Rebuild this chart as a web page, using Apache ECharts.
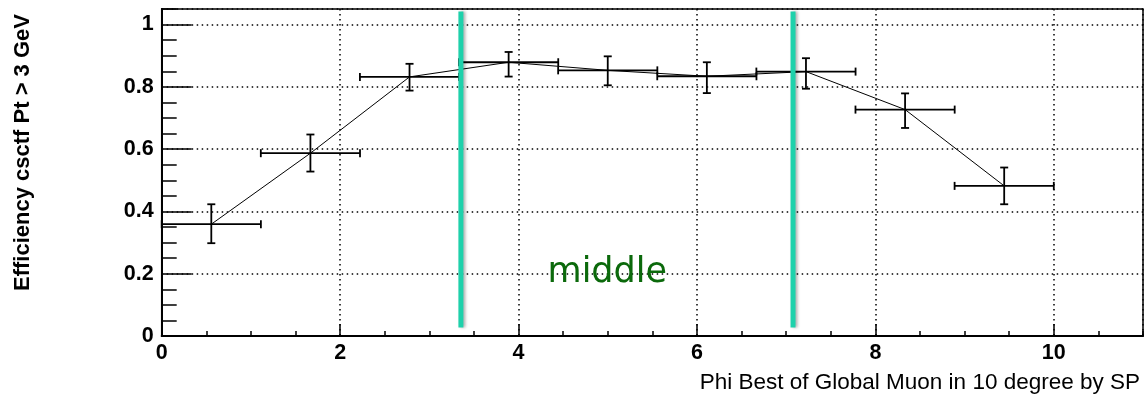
<!DOCTYPE html>
<html>
<head>
<meta charset="utf-8">
<script src="https://cdn.jsdelivr.net/npm/echarts@6/dist/echarts.min.js"></script>
<style>
html,body{margin:0;padding:0;background:#fff;}
#chart{width:1145px;height:395px;}
</style>
</head>
<body>
<div id="chart"></div>
<script>
// ---- data ----
const binCenters   = [0.556, 1.667, 2.778, 3.889, 5.0, 6.111, 7.222, 8.333, 9.444];
const binHalfWidth = [0.556, 0.556, 0.556, 0.556, 0.556, 0.556, 0.556, 0.556, 0.556];
const efficiency   = [0.359, 0.587, 0.832, 0.879, 0.853, 0.834, 0.849, 0.727, 0.482];
const errHigh      = [0.064, 0.060, 0.042, 0.033, 0.045, 0.045, 0.043, 0.052, 0.059];
const errLow       = [0.061, 0.059, 0.044, 0.046, 0.048, 0.054, 0.055, 0.059, 0.059];
const regionLines  = [3.354, 7.077];
const regionLineSpan = [0.027, 1.042];
const regionLabel  = ['middle'];
const regionLabelPos = [4.995, 0.203];
const xTitle = 'Phi Best of Global Muon in 10 degree by SP';
const yTitle = 'Efficiency csctf Pt > 3 GeV';

const FONT = '"Liberation Sans", Arial, Helvetica, sans-serif';
const chart = echarts.init(document.getElementById('chart'), null, {renderer: 'canvas'});

const pointData = binCenters.map((x, i) => [x, efficiency[i], binHalfWidth[i], errLow[i], errHigh[i]]);

const option = {
  animation: false,
  backgroundColor: '#fff',
  grid: {left: 161.7, top: 9, right: 2, bottom: 59, show: true, borderColor: '#000', borderWidth: 1.5, backgroundColor: 'transparent'},
  xAxis: [{
    type: 'value', min: 0, max: 11, interval: 2,
    name: xTitle, nameLocation: 'end', nameGap: -3,
    nameTextStyle: {fontFamily: FONT, fontSize: 22.5, color: '#000', align: 'right', verticalAlign: 'top', padding: [35, 0, 0, 0]},
    axisLine: {show: true, onZero: false, lineStyle: {color: '#000', width: 2}},
    axisTick: {show: true, inside: true, length: 12, lineStyle: {color: '#000', width: 1.5}},
    axisLabel: {show: true, showMaxLabel: false, margin: 6, fontFamily: FONT, fontWeight: 'bold', fontSize: 21.5, color: '#000'},
    splitLine: {show: true, lineStyle: {color: '#000', width: 1.5, type: [1.5, 3.5]}}
  }, {
    type: 'value', min: 0, max: 11, interval: 0.5, position: 'bottom',
    axisLine: {show: false}, axisLabel: {show: false}, splitLine: {show: false},
    axisTick: {show: true, inside: true, length: 5, lineStyle: {color: '#000', width: 1.5}}
  }],
  yAxis: [{
    type: 'value', min: 0, max: 1.05, interval: 0.2,
    name: yTitle, nameLocation: 'middle', nameGap: 128, nameRotate: 90,
    nameTextStyle: {fontFamily: FONT, fontSize: 22, fontWeight: 'bold', color: '#000', padding: [0, 0, 0, 40]},
    axisLine: {show: true, onZero: false, lineStyle: {color: '#000', width: 2}},
    axisTick: {show: true, inside: true, length: 30, lineStyle: {color: '#000', width: 1.5}},
    axisLabel: {show: true, showMaxLabel: false, margin: 8, fontFamily: FONT, fontWeight: 'bold', fontSize: 21.5, color: '#000',
      formatter: v => String(Math.round(v * 10) / 10)},
    splitLine: {show: true, lineStyle: {color: '#000', width: 1.5, type: [1.5, 3.5]}}
  }, {
    type: 'value', min: 0, max: 1.05, interval: 0.05, position: 'left',
    axisLine: {show: false}, axisLabel: {show: false}, splitLine: {show: false},
    axisTick: {show: true, inside: true, length: 15, lineStyle: {color: '#000', width: 1.5}}
  }],
  series: [
    {
      type: 'line', xAxisIndex: 0, yAxisIndex: 0,
      data: binCenters.map((x, i) => [x, efficiency[i]]),
      symbol: 'none', lineStyle: {color: '#000', width: 1}, z: 3
    },
    {
      type: 'custom', xAxisIndex: 0, yAxisIndex: 0, z: 4,
      data: pointData,
      renderItem: function (params, api) {
        const x = api.value(0), y = api.value(1), xe = api.value(2), lo = api.value(3), hi = api.value(4);
        const c = api.coord([x, y]);
        const top = api.coord([x, y + hi]), bot = api.coord([x, y - lo]);
        const lft = api.coord([x - xe, y]), rgt = api.coord([x + xe, y]);
        const cap = 4;
        const st = {stroke: '#000', lineWidth: 1.8};
        const L = (x1, y1, x2, y2) => ({type: 'line', shape: {x1, y1, x2, y2}, style: st});
        return {type: 'group', children: [
          L(c[0], top[1], c[0], bot[1]),
          L(c[0] - cap, top[1], c[0] + cap, top[1]),
          L(c[0] - cap, bot[1], c[0] + cap, bot[1]),
          L(lft[0], c[1], rgt[0], c[1]),
          L(lft[0], c[1] - cap, lft[0], c[1] + cap),
          L(rgt[0], c[1] - cap, rgt[0], c[1] + cap)
        ]};
      }
    },
    {
      type: 'custom', xAxisIndex: 0, yAxisIndex: 0, z: 6,
      data: regionLines.map(x => [x, regionLineSpan[0], regionLineSpan[1]]),
      renderItem: function (params, api) {
        const a = api.coord([api.value(0), api.value(1)]);
        const b = api.coord([api.value(0), api.value(2)]);
        return {type: 'line', shape: {x1: a[0], y1: a[1], x2: b[0], y2: b[1]},
          style: {stroke: '#1ed1ab', lineWidth: 5, shadowBlur: 3, shadowColor: 'rgba(0,0,0,0.3)', shadowOffsetX: 2}};
      }
    },
    {
      type: 'custom', xAxisIndex: 0, yAxisIndex: 0, z: 6,
      data: [[regionLabelPos[0], regionLabelPos[1]]],
      renderItem: function (params, api) {
        const p = api.coord([api.value(0), api.value(1)]);
        return {type: 'text', x: p[0], y: p[1],
          style: {text: regionLabel[0], fill: '#0b690b', font: '35px "Comic Sans MS", "DejaVu Sans", sans-serif', align: 'center', verticalAlign: 'middle'}};
      }
    }
  ]
};
chart.setOption(option);
</script>
</body>
</html>
